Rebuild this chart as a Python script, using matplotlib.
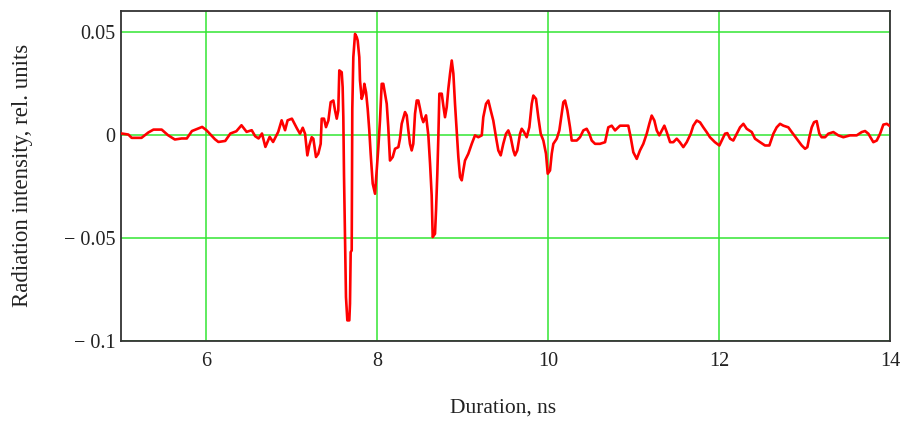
import numpy as np
import matplotlib
matplotlib.use("Agg")
import matplotlib.pyplot as plt

# Signal (time in ns, intensity in rel. units)
t_ns = [
    5.008, 5.086, 5.125, 5.24, 5.32, 5.38, 5.476, 5.55, 5.63, 5.71, 5.77, 5.83,
    5.95, 6.0, 6.10, 6.14, 6.22, 6.28, 6.35, 6.41, 6.47, 6.53, 6.57, 6.61,
    6.65, 6.69, 6.74, 6.78, 6.84, 6.88, 6.92, 6.95, 7.00, 7.06,
    7.095, 7.127, 7.154, 7.181, 7.204, 7.232, 7.251, 7.282, 7.309, 7.337,
    7.349, 7.376, 7.399, 7.427, 7.454, 7.485, 7.505, 7.525, 7.543, 7.555,
    7.583, 7.594, 7.602, 7.61, 7.633, 7.649, 7.672, 7.68, 7.688, 7.70,
    7.707, 7.719, 7.739, 7.759, 7.77, 7.789, 7.797, 7.817, 7.836, 7.848,
    7.868, 7.887, 7.906, 7.922, 7.946, 7.973, 7.993, 8.012, 8.031, 8.051,
    8.07, 8.09, 8.11, 8.128, 8.148, 8.18, 8.207, 8.246, 8.265, 8.285,
    8.324, 8.344, 8.363, 8.382, 8.402, 8.421, 8.441, 8.461, 8.48, 8.50,
    8.519, 8.538, 8.57, 8.597, 8.617, 8.636, 8.648, 8.675, 8.687, 8.702,
    8.714, 8.726, 8.754, 8.772, 8.792, 8.812, 8.831, 8.851, 8.871, 8.89,
    8.909, 8.929, 8.948, 8.968, 8.988, 9.006, 9.026, 9.065, 9.105, 9.143,
    9.182, 9.222, 9.24, 9.272, 9.299, 9.327, 9.357, 9.389, 9.416, 9.444,
    9.474, 9.506, 9.533, 9.561, 9.592, 9.611, 9.638, 9.67, 9.69, 9.717,
    9.748, 9.779, 9.807, 9.826, 9.857, 9.884, 9.912, 9.943, 9.974, 9.994,
    10.021, 10.041, 10.06, 10.1, 10.13,
    10.177, 10.197, 10.224, 10.255, 10.275, 10.334, 10.372, 10.411, 10.45,
    10.481, 10.509, 10.548, 10.606, 10.665, 10.703, 10.743, 10.782, 10.84,
    10.90, 10.937, 10.965, 10.996, 11.036, 11.074, 11.113, 11.153, 11.183,
    11.211, 11.242, 11.27, 11.30, 11.33, 11.359, 11.387, 11.426, 11.464,
    11.504, 11.54, 11.581, 11.621, 11.668, 11.698, 11.738, 11.777, 11.815,
    11.854, 11.893,
    11.951, 12.003, 12.031, 12.069, 12.096, 12.128, 12.166, 12.206, 12.245,
    12.284, 12.323, 12.382, 12.42, 12.479, 12.537, 12.588, 12.635, 12.674,
    12.713, 12.752, 12.81, 12.85, 12.908, 12.967, 13.006, 13.033, 13.056,
    13.084, 13.111, 13.142, 13.173, 13.20, 13.24, 13.278, 13.337, 13.395,
    13.454, 13.532, 13.61, 13.669, 13.708, 13.747, 13.805, 13.845, 13.884,
    13.922, 13.962, 13.992,
]
intensity = [
    0.0006, 0.0001, -0.0015, -0.0015, 0.0011, 0.0025, 0.0025, -0.0002, -0.0023, -0.0018, -0.0018, 0.0018,
    0.0038, 0.0022, -0.0022, -0.0035, -0.003, 0.0006, 0.0017, 0.0046, 0.0014, 0.0022, -0.0007, -0.0018,
    0.0006, -0.0059, -0.001, -0.0035, 0.0014, 0.007, 0.0022, 0.007, 0.0078, 0.003,
    0.0005, 0.0034, 0.0005, -0.0100, -0.0052, -0.0012, -0.0019, -0.0108, -0.0092, -0.0044,
    0.0078, 0.0078, 0.0037, 0.0069, 0.0158, 0.0166, 0.0118, 0.0078, 0.0118, 0.0312,
    0.0303, 0.0231, 0.0085, -0.0197, -0.0787, -0.0900, -0.0900, -0.0819, -0.0569, -0.0561,
    0.0126, 0.0376, 0.0489, 0.0473, 0.0457, 0.0376, 0.0263, 0.0174, 0.0199, 0.0247,
    0.0206, 0.0126, 0.0021, -0.0092, -0.0237, -0.0286, -0.0173, -0.006, 0.0069, 0.0247,
    0.0247, 0.0199, 0.015, 0.0037, -0.0125, -0.0108, -0.0068, -0.006, -0.0019, 0.0053,
    0.011, 0.0094, 0.0021, -0.0044, -0.0076, -0.0044, 0.0102, 0.0166, 0.0166, 0.0126,
    0.0085, 0.0061, 0.0094, -0.0003, -0.014, -0.0294, -0.0496, -0.048, -0.0367, -0.0189,
    -0.0012, 0.0199, 0.0199, 0.0142, 0.0085, 0.0134, 0.0223, 0.0296, 0.036, 0.0296,
    0.015, 0.0021, -0.0108, -0.0205, -0.0221, -0.0173, -0.0125, -0.0092, -0.0044, -0.0003,
    -0.0012, -0.0003, 0.0085, 0.015, 0.0166, 0.0118, 0.0069, -0.0012, -0.0076, -0.01,
    -0.0044, 0.0005, 0.0021, -0.0012, -0.0076, -0.01, -0.0076, 0.0005, 0.0029, 0.0013,
    -0.0012, 0.0037, 0.015, 0.019, 0.0174, 0.0085, 0.0005, -0.0028, -0.0092, -0.0189,
    -0.0173, -0.0092, -0.0044, -0.0019, 0.0021,
    0.0158, 0.0166, 0.0118, 0.0036, -0.0028, -0.0028, -0.0012, 0.0021, 0.0029,
    0.0005, -0.0028, -0.0044, -0.0044, -0.0036, 0.0036, 0.0044, 0.0021, 0.0044,
    0.0044, 0.0044, -0.0012, -0.0085, -0.0117, -0.0076, -0.0044, 0.0005, 0.0053,
    0.0093, 0.0069, 0.0021, -0.0003, 0.0021, 0.0044, 0.0013, -0.0036, -0.0036,
    -0.0019, -0.0036, -0.006, -0.0036, 0.0005, 0.0044, 0.0069, 0.006, 0.0036,
    0.0013, -0.0012,
    -0.0036, -0.0052, -0.0028, 0.0005, 0.0008, -0.0019, -0.0028, 0.0005, 0.0036,
    0.0053, 0.0029, 0.0013, -0.0019, -0.0036, -0.0052, -0.0052, 0.0005, 0.0036,
    0.0053, 0.0044, 0.0036, 0.0013, -0.0019, -0.0052, -0.0068, -0.006, -0.0012,
    0.0036, 0.0061, 0.0066, 0.0005, -0.0012, -0.0012, 0.0005, 0.0013, -0.0003,
    -0.0012, -0.0003, -0.0003, 0.0013, 0.0018, 0.0005, -0.0036, -0.0028, 0.0005,
    0.0049, 0.0053, 0.0044,
]

x_ticks = [6, 8, 10, 12, 14]
x_tick_labels = ["6", "8", "10", "12", "14"]
y_ticks = [-0.1, -0.05, 0, 0.05]
y_tick_labels = ["\u2212 0.1", "\u2212 0.05", "0", "0.05"]

plt.rcParams['font.family'] = ['Liberation Serif', 'DejaVu Serif']

fig = plt.figure(figsize=(9.05, 4.21), dpi=100)
ax = fig.add_axes([121 / 905, 1 - 341 / 421, 769 / 905, 330 / 421])

ax.plot(t_ns, intensity, color='#ff0000', lw=1.9, zorder=3)

ax.set_xlim(5, 14)
ax.set_ylim(-0.1, 0.06)
ax.set_xticks(x_ticks)
ax.set_xticklabels(x_tick_labels)
ax.set_yticks(y_ticks)
ax.set_yticklabels(y_tick_labels)
ax.tick_params(axis='both', length=0, labelsize=14.5, colors='#222222')
ax.tick_params(axis='x', pad=8)
ax.tick_params(axis='y', pad=4)

ax.grid(True, color='#33e633', lw=1.1, zorder=1)
for s in ax.spines.values():
    s.set_color('#333333')
    s.set_linewidth(1.3)

ax.set_xlabel("Duration, ns", fontsize=15.5, color='#222222')
ax.set_ylabel("Radiation intensity, rel. units", fontsize=16.5, color='#222222')
ax.xaxis.set_label_coords(0.4974, -0.174)
ax.yaxis.set_label_coords(-0.1144, 0.503)

fig.savefig("out.png", dpi=100)
